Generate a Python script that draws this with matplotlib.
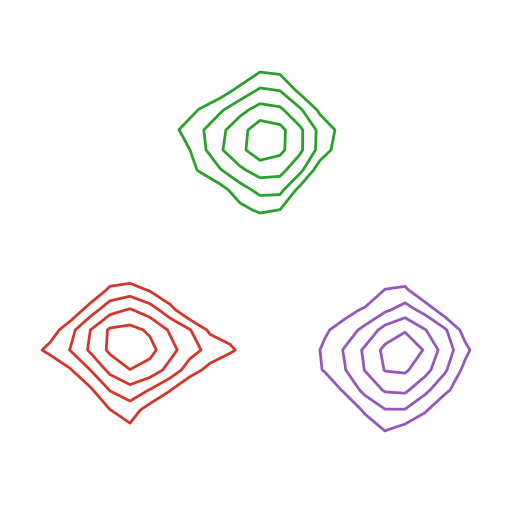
import numpy as np
import matplotlib.pyplot as plt

# density grids (pixel-like units, y grows downward)
levels = [1, 2, 3, 4]

green_x = np.arange(160, 361, 20)
green_y = np.arange(50, 231, 20)
green_z = np.array([
    [0, 0, 0, 0, 0, 0, 0, 0, 0, 0, 0],
    [0, 0, 0, 0, 0, 0.87, 0.73, 0, 0, 0, 0],
    [0, 0, 0, 0.4, 1.3, 2.13, 1.95, 0.7, 0, 0, 0],
    [0, 0.31, 1.08, 1.85, 2.7, 3.4, 3.2, 2.16, 0.8, 0, 0],
    [0.17, 1.05, 1.83, 2.73, 3.64, 4.55, 4.3, 3.2, 1.71, 0.76, 0],
    [0, 0.38, 1.62, 2.87, 3.75, 4.59, 4.25, 3.2, 1.65, 0.47, 0],
    [0, 0.32, 1.12, 1.92, 2.82, 3.44, 3.32, 2.29, 0.4, 0, 0],
    [0, 0, 0, 0.6, 1.55, 2.31, 2.3, 0.65, 0, 0, 0],
    [0, 0, 0, 0, 0.7, 1.18, 0.98, 0, 0, 0, 0],
    [0, 0, 0, 0, 0, 0, 0, 0, 0, 0, 0],
])

red_x = np.arange(30, 251, 20)
red_y = np.arange(270, 451, 20)
red_z = np.array([
    [0, 0, 0, 0, 0, 0, 0, 0, 0, 0, 0, 0],
    [0, 0, 0, 0, 1.23, 1.5, 0.9, 0, 0, 0, 0, 0],
    [0, 0, 0.15, 1.5, 2.65, 3.1, 2.5, 1.4, 0, 0, 0, 0],
    [0, 0.45, 1.65, 2.98, 4.15, 4.3, 3.85, 2.88, 2.05, 0.81, 0.55, 0],
    [0.5, 1.33, 2.02, 3.14, 4.2, 4.8, 4.3, 3.35, 2.38, 1.69, 1.18, 0.5],
    [0, 0, 0.9, 1.98, 3.28, 3.98, 3.61, 2.65, 1.5, 0.65, 0.1, 0],
    [0, 0, 0, 0.81, 2.05, 2.64, 1.95, 1.05, 0, 0, 0, 0],
    [0, 0, 0, 0, 0.98, 1.48, 0.55, 0, 0, 0, 0, 0],
    [0, 0, 0, 0, 0.2, 0.75, 0, 0, 0, 0, 0, 0],
    [0, 0, 0, 0, 0, 0, 0, 0, 0, 0, 0, 0],
])

purple_x = np.arange(305, 486, 20)
purple_y = np.arange(270, 451, 20)
purple_z = np.array([
    [0, 0, 0, 0, 0, 0, 0, 0, 0, 0],
    [0, 0, 0, 0, 1.04, 1.22, 0, 0, 0, 0],
    [0, 0, 0.6, 1.17, 1.83, 2.43, 1.67, 0.4, 0, 0],
    [0, 0.85, 1.5, 2.27, 3.38, 3.9, 3.05, 2.14, 0.6, 0],
    [0.35, 1.22, 2.1, 3.18, 4.25, 4.8, 3.9, 2.53, 1.29, 0.12],
    [0.29, 1.12, 1.96, 3.04, 4.05, 4.15, 3.36, 2.14, 0.71, 0],
    [0, 0.05, 1.22, 2.29, 3.11, 3.2, 2.25, 1.27, 0.2, 0],
    [0, 0, 0, 1.21, 1.95, 1.95, 1.16, 0, 0, 0],
    [0, 0, 0, 0.2, 1.05, 0.6, 0, 0, 0, 0],
    [0, 0, 0, 0, 0, 0, 0, 0, 0, 0],
])

fig = plt.figure(figsize=(5.12, 5.12), dpi=100)
ax = fig.add_axes([0, 0, 1, 1])

ax.contour(green_x, green_y, green_z, levels=levels, colors='#2ca02c', linewidths=2)
ax.contour(red_x, red_y, red_z, levels=levels, colors='#d3372c', linewidths=2)
ax.contour(purple_x, purple_y, purple_z, levels=levels, colors='#9458b9', linewidths=2)

ax.set_xlim(0, 512)
ax.set_ylim(512, 0)
ax.axis('off')

fig.savefig('out.png', dpi=100)
